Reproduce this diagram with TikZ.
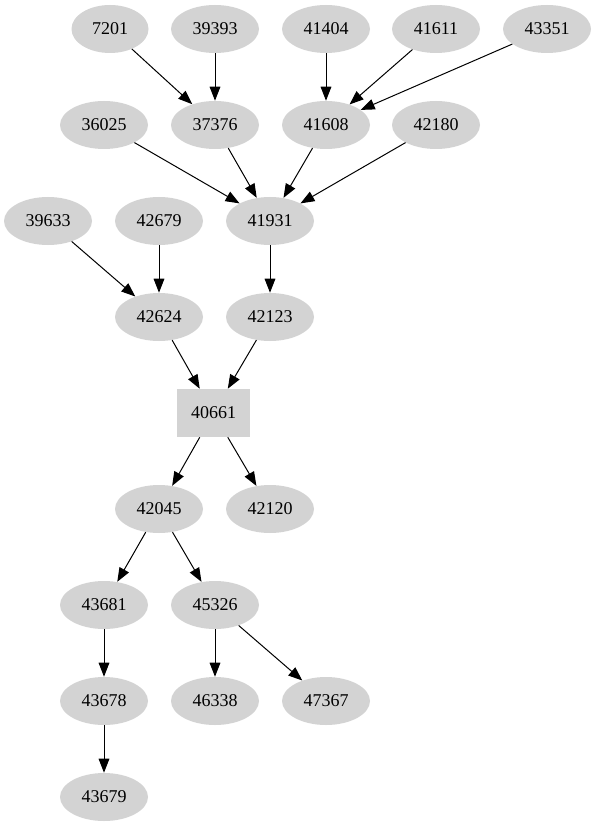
\documentclass[tikz,border=0pt]{standalone}
\usepackage{fontspec}
\setmainfont{Liberation Serif}
\usetikzlibrary{shapes.geometric,arrows.meta}
\definecolor{nodegray}{RGB}{211,211,211}
\tikzset{
  blob/.style={ellipse,fill=nodegray,inner sep=0pt,minimum width=66pt,minimum height=36pt,font=\fontsize{13.5}{16}\selectfont},
  hub/.style={rectangle,fill=nodegray,inner sep=0pt,minimum width=54.75pt,minimum height=36pt,font=\fontsize{13.5}{16}\selectfont},
  edge/.style={line width=0.75pt,-{Triangle[length=10.5pt,width=8pt]}}
}
\begin{document}
\begin{tikzpicture}[x=0.75pt,y=-0.75pt]
  \useasboundingbox (0,0) rectangle (596,827);
  % nodes, row by row
  \node[blob,minimum width=57.75pt] (n7201) at (110,29){7201};
  \foreach \n/\x/\y in {39393/215/29,41404/326/29,41611/436/29,43351/547/29,
    36025/104/125,37376/215/125,41608/326/125,42180/436/125,
    39633/48/221,42679/159/221,41931/270/221,
    42624/159/317,42123/270/317,
    42045/159/509,42120/270/509,
    43681/104/605,45326/215/605,
    43678/104/701,46338/215/701,47367/326/701,
    43679/104/797}{
    \node[blob] (n\n) at (\x,\y){\n};}
  \node[hub] (n40661) at (213.5,413){40661};
  % edges
  \foreach \a/\b in {7201/37376,39393/37376,41404/41608,41611/41608,43351/41608,
    36025/41931,37376/41931,41608/41931,42180/41931,
    39633/42624,42679/42624,41931/42123,
    42624/40661,42123/40661,40661/42045,40661/42120,
    42045/43681,42045/45326,43681/43678,45326/46338,45326/47367,
    43678/43679}{
    \draw[edge](n\a)--(n\b);}
\end{tikzpicture}
\end{document}
